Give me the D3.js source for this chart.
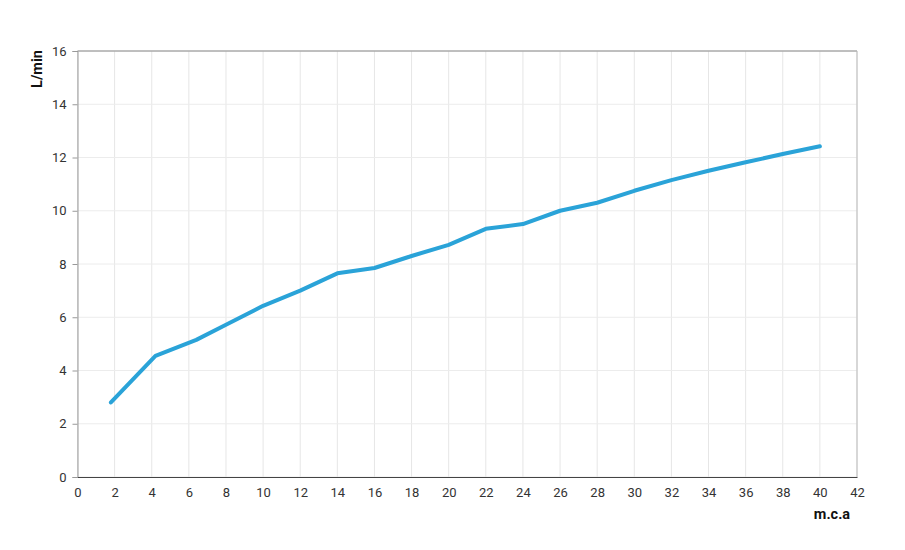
<!DOCTYPE html>
<html>
<head>
<meta charset="utf-8">
<script src="https://cdn.jsdelivr.net/npm/d3@7"></script>
<style>
  body { margin: 0; background: #fff; }
  text { font-family: Roboto, "Noto Sans", sans-serif; }
</style>
</head>
<body>
<div id="chart"></div>
<script>
// pressure (m.c.a) vs flow (L/min)
var pressure = [1.8, 4.2, 6.4, 8, 10, 12, 14, 16, 18, 20, 22, 24, 26, 28, 30, 32, 34, 36, 38, 40];
var flow = [2.8, 4.55, 5.15, 5.72, 6.43, 7.0, 7.65, 7.85, 8.3, 8.72, 9.32, 9.5, 10.0, 10.3, 10.75, 11.15, 11.5, 11.82, 12.13, 12.42];
var xTicks = d3.range(0, 43, 2);
var yTicks = d3.range(0, 17, 2);
var xLabel = "m.c.a";
var yLabel = "L/min";

var width = 905, height = 550;
var margin = {top: 51, right: 48, bottom: 73, left: 77.5};

var svg = d3.select("#chart")
    .append("svg")
    .attr("width", width)
    .attr("height", height);

var x = d3.scaleLinear().domain([0, 42]).range([margin.left, width - margin.right]);
var y = d3.scaleLinear().domain([0, 16]).range([height - margin.bottom, margin.top]);

// grid
svg.append("g")
    .selectAll("line")
    .data(xTicks)
    .enter()
    .append("line")
    .attr("x1", d => x(d)).attr("x2", d => x(d))
    .attr("y1", y(0)).attr("y2", y(16))
    .attr("stroke", "#e6e6e6")
    .attr("stroke-width", 1);
svg.append("g")
    .selectAll("line")
    .data(yTicks)
    .enter()
    .append("line")
    .attr("x1", x(0)).attr("x2", x(42))
    .attr("y1", d => y(d)).attr("y2", d => y(d))
    .attr("stroke", "#ececec")
    .attr("stroke-width", 1);

// frame top / right
svg.append("line")
    .attr("x1", x(0)).attr("x2", x(42))
    .attr("y1", y(16)).attr("y2", y(16))
    .attr("stroke", "#888");
svg.append("line")
    .attr("x1", x(42)).attr("x2", x(42))
    .attr("y1", y(0)).attr("y2", y(16))
    .attr("stroke", "#bbb");

// y axis
var yAxis = svg.append("g")
    .attr("transform", `translate(${x(0)},0)`)
    .call(d3.axisLeft(y).tickValues(yTicks).tickSize(5).tickPadding(6));
yAxis.select(".domain").attr("stroke", "#999");
yAxis.selectAll(".tick line").attr("stroke", "#999");
yAxis.selectAll("text").attr("font-size", 13).attr("fill", "#333")
    .attr("font-family", "Roboto, sans-serif");

// x axis
var xAxis = svg.append("g")
    .attr("transform", `translate(0,${y(0)})`)
    .call(d3.axisBottom(x).tickValues(xTicks).tickSize(0).tickPadding(11));
xAxis.select(".domain").attr("stroke", "#444");
xAxis.selectAll("text").attr("font-size", 13).attr("fill", "#333")
    .attr("font-family", "Roboto, sans-serif");

// axis titles
svg.append("text")
    .attr("transform", "translate(42,69)rotate(-90)")
    .attr("text-anchor", "middle")
    .attr("font-size", 14.5)
    .attr("font-weight", "bold")
    .attr("fill", "#111")
    .text(yLabel);
svg.append("text")
    .attr("x", 832)
    .attr("y", 519)
    .attr("text-anchor", "middle")
    .attr("font-size", 14.5)
    .attr("font-weight", "bold")
    .attr("fill", "#111")
    .text(xLabel);

// line
var line = d3.line()
    .x((d, i) => x(pressure[i]))
    .y(d => y(d));
svg.append("path")
    .datum(flow)
    .attr("fill", "none")
    .attr("stroke", "#2aa3d8")
    .attr("stroke-width", 4)
    .attr("stroke-linejoin", "round")
    .attr("stroke-linecap", "round")
    .attr("d", line);
</script>
</body>
</html>
